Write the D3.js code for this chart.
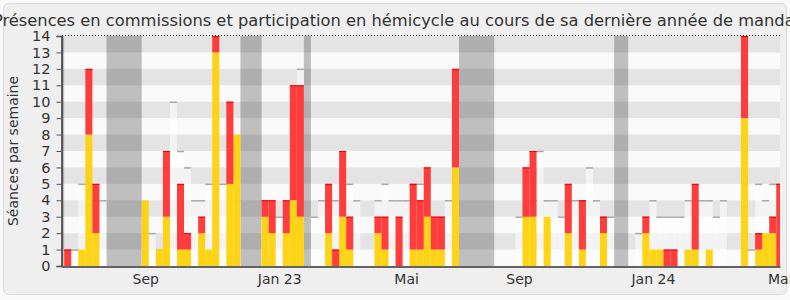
<!DOCTYPE html>
<html><head><meta charset="utf-8">
<script src="https://cdn.jsdelivr.net/npm/d3@7"></script>
<style>
html,body{margin:0;padding:0;background:#fafafa;}
svg{display:block;font-family:"DejaVu Sans",sans-serif;}
</style></head><body>
<svg id="c" width="790" height="300"></svg>
<script>
const titleText = "Présences en commissions et participation en hémicycle au cours de sa dernière année de mandat";
const yLabelText = "Séances par semaine";
const tickLabels = ["Sep", "Jan 23", "Mai", "Sep", "Jan 24", "Mai"];
const tickWeeks = [11, 30, 48, 64, 83, 101];
const yTicks = [0,1,2,3,4,5,6,7,8,9,10,11,12,13,14];
const vacStart = [-1, 6, 25, 34, 56, 78];
const vacEnd   = [0, 11, 28, 35, 61, 80];
const commission = [0,0,1,8,2,0,0,0,0,0, 0,4,0,1,3,0,1,1,0,2, 1,13,0,5,8,0,0,0,3,2,
  0,2,4,3,0,0,0,2,0,3, 1,0,0,0,2,1,0,0,0,1, 1,3,1,1,0,6,0,0,0,0,
  0,0,0,0,0,3,3,0,3,0, 0,2,0,1,0,0,2,0,0,0, 0,0,2,1,1,0,0,0,1,1,
  0,1,0,0,0,0,9,0,1,2, 2,0];
const hemicycle = [1,0,0,4,3,0,0,0,0,0, 0,0,0,0,4,0,4,1,0,1, 0,1,0,5,0,0,0,0,1,2,
  0,2,7,8,0,0,0,3,1,4, 2,0,0,0,1,2,0,3,0,4, 3,3,2,2,0,6,0,0,0,0,
  0,0,0,0,0,3,4,0,0,0, 0,3,0,3,0,0,1,0,0,0, 0,0,1,0,0,1,1,0,0,4,
  0,0,0,0,0,0,5,0,1,0, 1,5];
const median = [1,1,5,5,4,4,0,0,0,0, 0,2,2,1,6,10,7,6,4,4, 5,5,5,5,4,0,0,0,3,3,
  3,3,9,12,0,3,4,4,4,5, 5,4,0,0,4,5,4,4,4,5, 5,5,3,3,4,5,0,0,0,0,
  0,0,0,0,3,3,4,7,4,4, 3,4,4,4,6,4,3,3,0,0, 0,2,3,4,3,3,3,3,4,4,
  4,4,3,4,0,0,5,1,5,4, 5,5];

const svg = d3.select("#c");
const L = 62, R = 780, T = 36, B = 266;
const x = d3.scaleLinear().domain([-0.31, 101.53]).range([L, R]);
const y = d3.scaleLinear().domain([0, 14]).range([B, T]);
const weeks = d3.range(commission.length);

// frame
svg.append("rect").attr("x", 3.5).attr("y", 3.5).attr("width", 783).attr("height", 291)
  .attr("rx", 5).attr("fill", "#efefef").attr("stroke", "#dadada");

svg.append("defs").append("clipPath").attr("id", "plot")
  .append("rect").attr("x", L).attr("y", T).attr("width", R - L).attr("height", B - T);

const g = svg.append("g").attr("clip-path", "url(#plot)");
g.append("rect").attr("x", L).attr("y", T).attr("width", R - L).attr("height", B - T).attr("fill", "#fafafa");

// vacations
g.selectAll(".vac").data(vacStart).join("rect")
  .attr("x", (d) => x(d)).attr("width", (d, i) => x(vacEnd[i]) - x(d))
  .attr("y", T).attr("height", B - T).attr("fill", "#bfbfbf");

// horizontal bands
g.selectAll(".band").data(yTicks.filter(v => v % 2 === 1)).join("rect")
  .attr("x", L).attr("width", R - L)
  .attr("y", d => y(d + 1)).attr("height", d => y(d) - y(d + 1))
  .attr("fill", "rgba(0,0,0,0.085)");

// median columns
g.selectAll(".med").data(weeks.filter(i => median[i] > 0)).join("rect")
  .attr("x", i => x(i)).attr("width", i => x(i + 1) - x(i))
  .attr("y", i => y(median[i])).attr("height", i => B - y(median[i]))
  .attr("fill", "rgba(255,255,255,0.55)");
g.selectAll(".medl").data(weeks.filter(i => median[i] > 0)).join("line")
  .attr("x1", i => x(i)).attr("x2", i => x(i + 1))
  .attr("y1", i => y(median[i]) + 0.5).attr("y2", i => y(median[i]) + 0.5)
  .attr("stroke", "#a8a8a8").attr("stroke-width", 1.5);

// bars
const stack = weeks.map(i => ({i, c: commission[i], h: hemicycle[i]}));
g.selectAll(".yc").data(stack.filter(d => d.c > 0)).join("rect")
  .attr("x", d => x(d.i)).attr("width", d => x(d.i + 1) - x(d.i))
  .attr("y", d => y(d.c)).attr("height", d => B - y(d.c))
  .attr("fill", "#ffd20a").attr("opacity", 0.95);
g.selectAll(".rh").data(stack.filter(d => d.h > 0)).join("rect")
  .attr("x", d => x(d.i)).attr("width", d => x(d.i + 1) - x(d.i))
  .attr("y", d => y(d.c + d.h)).attr("height", d => y(d.c) - y(d.c + d.h))
  .attr("fill", "#ff3333").attr("opacity", 0.95);
g.selectAll(".rt").data(stack.filter(d => d.h > 0)).join("line")
  .attr("x1", d => x(d.i)).attr("x2", d => x(d.i + 1))
  .attr("y1", d => y(d.c + d.h) + 0.5).attr("y2", d => y(d.c + d.h) + 0.5)
  .attr("stroke", "#e80000").attr("stroke-width", 1);

// top dotted line
svg.append("line").attr("x1", L).attr("x2", R).attr("y1", T - 0.5).attr("y2", T - 0.5)
  .attr("stroke", "#222").attr("stroke-dasharray", "1,2");

// axes
const yAxis = d3.axisLeft(y).tickValues(yTicks).tickSize(5).tickPadding(6).tickFormat(d3.format("d"));
const ya = svg.append("g").attr("transform", `translate(${L - 0.5},0)`).call(yAxis);
ya.select(".domain").attr("stroke", "#333").attr("stroke-width", 1.5);
ya.selectAll(".tick line").attr("stroke", "#555");
ya.selectAll("text").attr("font-size", 14.5).attr("fill", "#333").attr("font-family", "DejaVu Sans");

const xAxis = d3.axisBottom(x).tickValues(tickWeeks.map(w => w + 0.5))
  .tickFormat((d, i) => tickLabels[i]).tickSize(0).tickPadding(8);
const xa = svg.append("g").attr("transform", `translate(0,${B + 0.5})`).call(xAxis);
xa.select(".domain").attr("stroke", "#333").attr("stroke-width", 1.5);
xa.selectAll("text").attr("font-size", 14).attr("fill", "#333").attr("font-family", "DejaVu Sans");

// y label
svg.append("text").attr("transform", "translate(18,151) rotate(-90)")
  .attr("text-anchor", "middle").attr("font-size", 14).attr("fill", "#333")
  .text(yLabelText);

// title
svg.append("text").attr("x", 397).attr("y", 26).attr("text-anchor", "middle")
  .attr("font-size", 16.3).attr("fill", "#333").text(titleText);
</script>
</body></html>
